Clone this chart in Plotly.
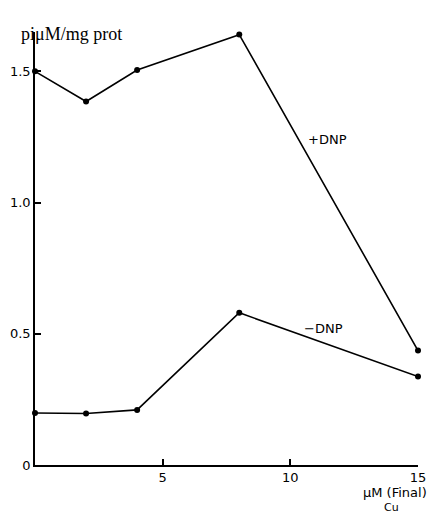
import plotly.graph_objects as go

cu_um = [0, 2, 4, 8, 15]
plus_dnp = [1.50, 1.385, 1.505, 1.64, 0.436]
minus_dnp = [0.198, 0.196, 0.21, 0.58, 0.337]

x_ticks = [5, 10, 15]
x_ticktext = ["5", "10", "15"]
y_ticks = [0, 0.5, 1.0, 1.5]
y_ticktext = ["0", "0.5", "1.0", "1.5"]

tick_font = dict(family="DejaVu Sans", size=13, color="black")

fig = go.Figure()
for name, ys in [("+DNP", plus_dnp), ("-DNP", minus_dnp)]:
    fig.add_trace(go.Scatter(
        x=cu_um, y=ys, mode="lines+markers", name=name,
        line=dict(color="black", width=1.6),
        marker=dict(color="black", size=6),
        showlegend=False, cliponaxis=False,
    ))

fig.add_annotation(x=11.45, y=1.24, text="+DNP", showarrow=False,
                   font=dict(family="DejaVu Sans", size=13, color="black"))
fig.add_annotation(x=11.3, y=0.52, text="\u2212DNP", showarrow=False,
                   font=dict(family="DejaVu Sans", size=13, color="black"))

fig.add_annotation(xref="paper", yref="paper", x=-0.042, y=1.022, xanchor="left",
                   text="pi\u03bcM/mg prot", showarrow=False,
                   font=dict(family="Liberation Serif", size=18, color="black"))
fig.add_annotation(xref="paper", yref="paper", x=1.028, y=-0.085, xanchor="right",
                   text="\u03bcM (Final)", showarrow=False,
                   font=dict(family="DejaVu Sans", size=13, color="black"))
fig.add_annotation(xref="paper", yref="paper", x=0.955, y=-0.118,
                   text="Cu", showarrow=False,
                   font=dict(family="DejaVu Sans", size=11, color="black"))

fig.update_xaxes(range=[0, 15], tickvals=x_ticks, ticktext=x_ticktext,
                 showgrid=False, zeroline=False, showline=True, linecolor="black",
                 linewidth=1.5, ticks="inside", ticklen=6, tickcolor="black",
                 tickwidth=1.5, tickfont=tick_font, automargin=False)
fig.update_yaxes(range=[0, 1.65], tickvals=y_ticks, ticktext=y_ticktext,
                 showgrid=False, zeroline=False, showline=True, linecolor="black",
                 linewidth=1.5, ticks="inside", ticklen=6, tickcolor="black",
                 tickwidth=1.5, tickfont=tick_font, automargin=False)

fig.update_layout(width=430, height=522, plot_bgcolor="white", paper_bgcolor="white",
                  margin=dict(l=35, r=12, t=32, b=57))

fig.write_html("out.html", config={"displayModeBar": False},
               post_script="document.body.style.margin='0';document.body.style.overflow='hidden';")
